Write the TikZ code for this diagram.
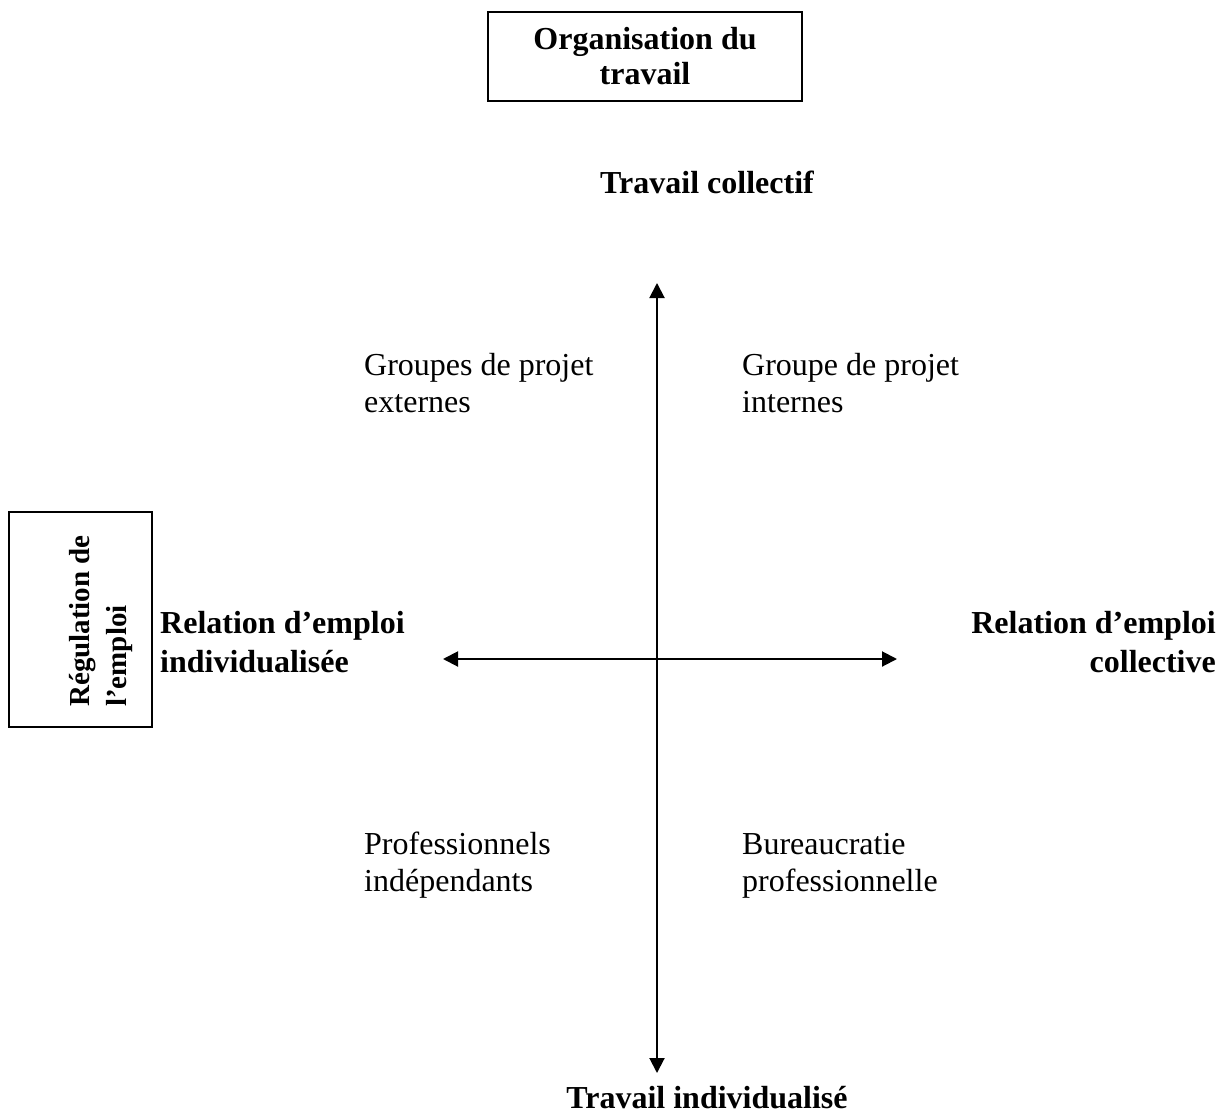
\documentclass[tikz,border=0pt]{standalone}
\usepackage{fontspec}
\setmainfont{Liberation Serif}
\usetikzlibrary{positioning,arrows.meta}

\begin{document}
\begin{tikzpicture}[
			x=1pt, y=-1pt,
			framenode/.style={rectangle, draw=black, line width=1.8pt, inner sep=0pt, font=\fontsize{32}{35}\selectfont\bfseries},
			polenode/.style={inner sep=0pt, font=\fontsize{32}{39}\selectfont\bfseries},
			quadnode/.style={inner sep=0pt, align=left, anchor=base west, font=\fontsize{32}{37}\selectfont},
			axisline/.style={line width=2pt, {Triangle[width=15pt,length=15pt]}-{Triangle[width=15pt,length=15pt]}},
			]
			\useasboundingbox (0,0) rectangle (1220,1116);
			%Frames
			\node[framenode, align=center, minimum width=314pt, minimum height=89pt] (orga) at (645,56.5) {Organisation du\\travail};
			\node[framenode, minimum width=143pt, minimum height=215pt] (regul) at (80.5,619.5) {};
			\node[inner sep=0pt, align=left, rotate=90, font=\fontsize{29}{37}\selectfont\bfseries] (regultxt) at (101,621) {Régulation de\\l’emploi};

			%Poles
			\node[polenode, anchor=base] (coll)  at (707,193)  {Travail collectif};
			\node[polenode, anchor=base] (indiv) at (707,1108) {Travail individualisé};
			\node[polenode, align=left, anchor=base west]  (relind) at (160,672)  {Relation d’emploi\\individualisée};
			\node[polenode, align=right, anchor=base east] (relcol) at (1216,672) {Relation d’emploi\\collective};

			%Quadrants
			\node[quadnode] (extern) at (364,412) {Groupes de projet\\externes};
			\node[quadnode] (intern) at (742,412) {Groupe de projet\\internes};
			\node[quadnode] (indep)  at (364,891) {Professionnels\\indépendants};
			\node[quadnode] (bureau) at (742,891) {Bureaucratie\\professionnelle};

			%Axes
			\coordinate (north) at (657,283);
			\coordinate (south) at (657,1073);
			\coordinate (west)  at (443,659);
			\coordinate (east)  at (897,659);
			\draw[axisline] (south) -- (north);
			\draw[axisline] (west) -- (east);
		\end{tikzpicture}
\end{document}
